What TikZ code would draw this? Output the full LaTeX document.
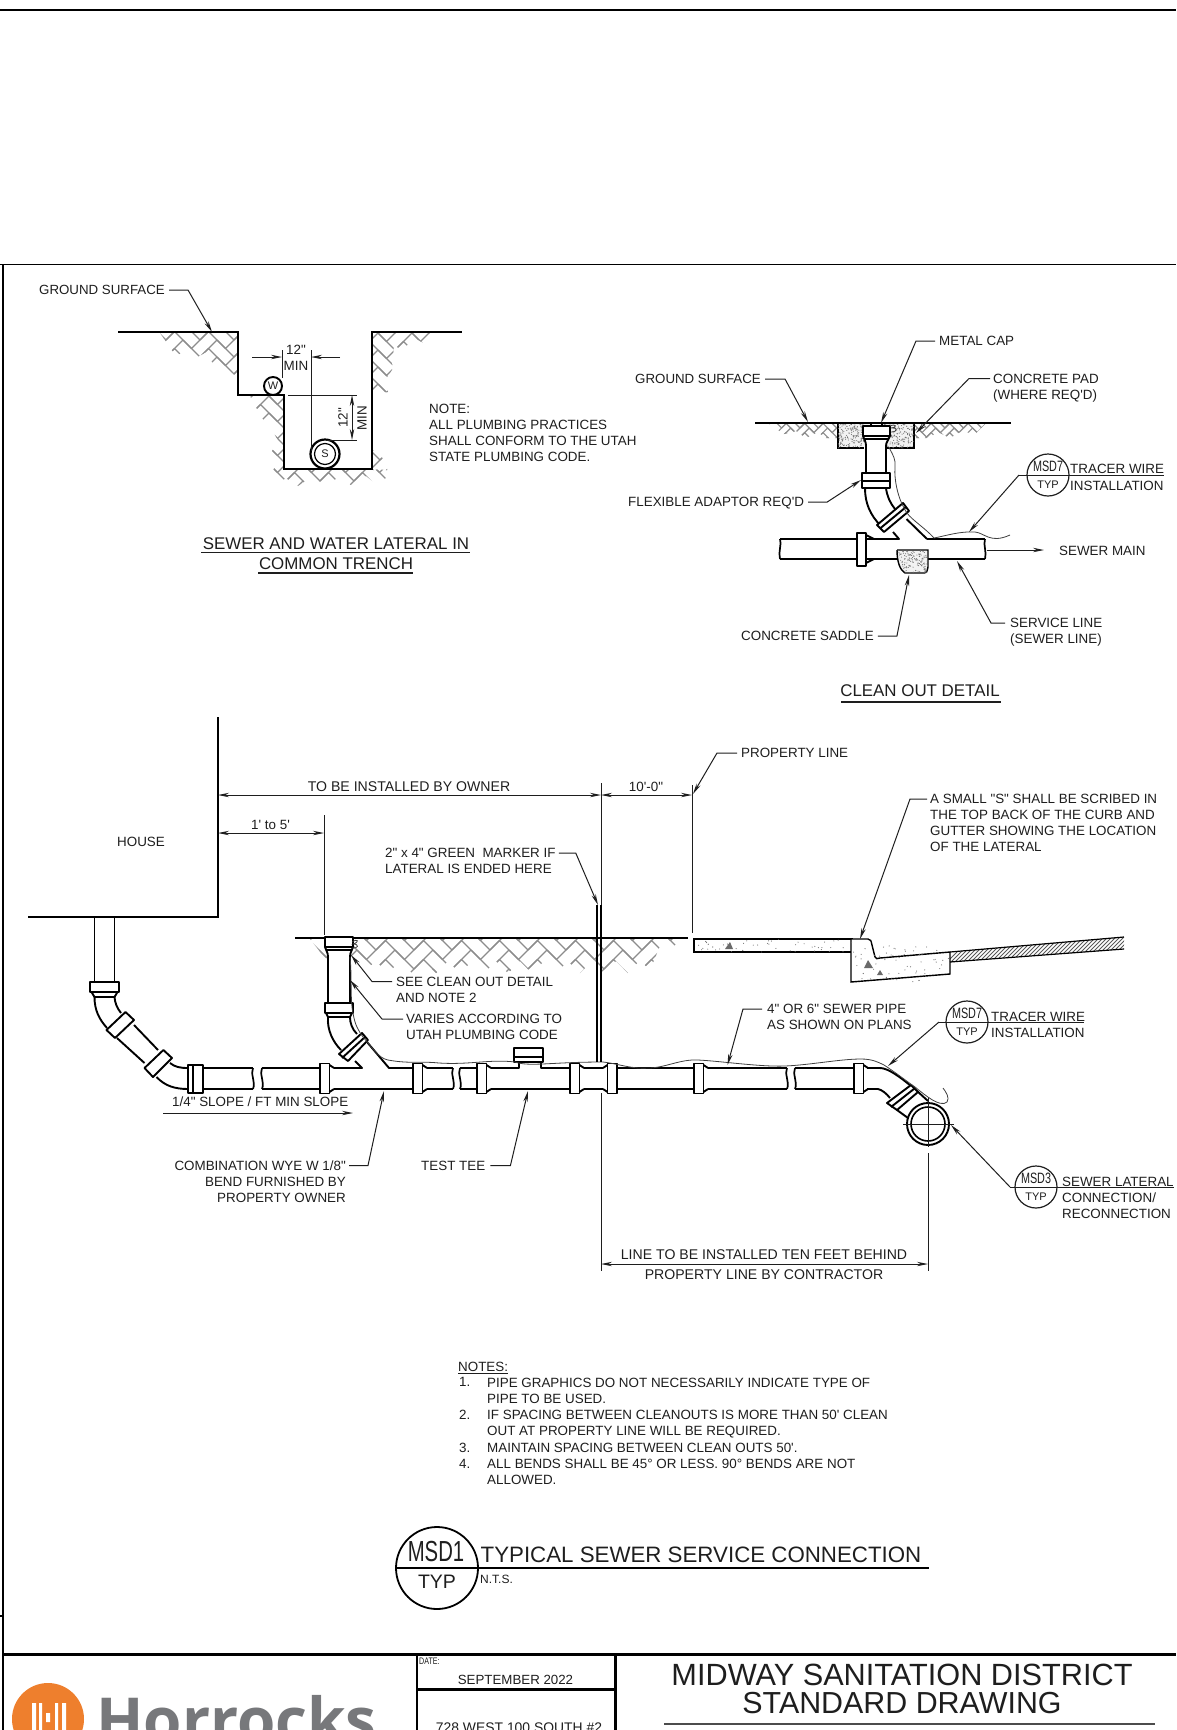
\documentclass[tikz,border=0pt]{standalone}
\usepackage{fontspec}
\usetikzlibrary{arrows.meta}
\newfontfamily\lib{Liberation Sans}
\newfontfamily\libb{Open Sans}
\definecolor{ink}{HTML}{1E1E1E}
\definecolor{hatchg}{HTML}{8C8C8C}
\definecolor{stipg}{HTML}{6A6A6A}
\definecolor{logoo}{HTML}{EE7F2D}
\definecolor{logog}{HTML}{77787B}
\newcommand\narrowtxt[2]{\scalebox{#1}[1]{#2}}
\tikzset{
  lbl/.style={inner sep=0pt,anchor=north west,align=left,text=ink,yshift=-1pt,font=\lib\fontsize{13.4}{16}\selectfont},
  lblr/.style={lbl,anchor=north east,align=right},
  lblc/.style={lbl,anchor=north,align=center},
  lbld/.style={lblc,yshift=1pt,font=\lib\fontsize{14.1}{16}\selectfont},
  ttl/.style={inner sep=0pt,anchor=center,align=center,text=ink,yshift=-1pt,font=\lib\fontsize{16.9}{20}\selectfont},
  lead/.style={draw=ink,line width=1pt,-{Stealth[length=11pt,width=4.4pt]}},
  dimarr/.style={draw=ink,line width=1pt,{Stealth[length=11pt,width=4.4pt]}-{Stealth[length=11pt,width=4.4pt]}},
  thinl/.style={draw=ink,line width=1pt},
  pipe/.style={draw=black,line width=1.9pt,line join=round},
  pipef/.style={pipe,fill=white},
  wire/.style={draw=black!75,line width=0.8pt},
  hatchl/.style={draw=hatchg,line width=1.2pt},
  bub/.style={circle,draw=ink,line width=1.2pt,minimum size=42pt,inner sep=0pt},
  frame/.style={draw=black,line width=2.4pt},
  conc/.style={draw=black,line width=1.4pt,fill=white}
}
% clip path, centre x, centre y, unit, columns, rows
\newcommand\earth[6]{%
  \begin{scope}
    \clip #1;
    \begin{scope}[shift={(#2,#3)},x={(#4pt,#4pt)},y={(-#4pt,#4pt)},hatchl]
      \foreach \jj in {-#5,...,#5}{\foreach \kk in {-#6,...,#6}{%
        \draw[shift={(\kk+2*\jj,\kk-2*\jj)}] (0,0)--(2,0) (0,1)--(2,1)
          (2,-1)--(2,1) (3,-1)--(3,1);
      }}
    \end{scope}
  \end{scope}}
% clip path, x, y, w, h, n
\newcommand\stip[6]{%
  \begin{scope}
    \clip #1;
    \foreach \q in {1,...,#6}{%
      \pgfmathsetmacro\px{#2+#4*rnd}\pgfmathsetmacro\py{#3+#5*rnd}%
      \fill[stipg] (\px,\py) circle (0.55);}
  \end{scope}}
% bell with the socket on the left, taper to the right
\newcommand\bellR[1]{%
  \draw[pipef] (#1,1063.5) rectangle ++(9.5,30);
  \draw[pipe] (#1+9.5,1065)--(#1+14,1068) (#1+9.5,1092)--(#1+14,1089);}
% bell with taper on the left, socket on the right
\newcommand\bellL[1]{%
  \draw[pipe] (#1,1068)--(#1+4.5,1065) (#1,1089)--(#1+4.5,1092);
  \draw[pipef] (#1+4.5,1063.5) rectangle ++(9.5,30);}
\newcommand\brk[1]{\draw[draw=black,line width=1.7pt] (#1,1068) .. controls (#1-3,1074) and (#1+3,1082) .. (#1,1089);}
\begin{document}
\begin{tikzpicture}[x=1pt,y=-1pt]
\useasboundingbox (0,0) rectangle (1176,1730);
\fill[white] (0,0) rectangle (1176,1730);
\clip (0,0) rectangle (1176,1730);
\pgfmathsetseed{11}

% ---------- sheet frame
\draw[frame] (0,10)--(1176,10);
\draw[draw=black,line width=1.1pt] (0,264.5)--(1176,264.5);
\draw[frame] (3,264.5)--(3,1730);
\draw[frame] (0,1616)--(3,1616);
\draw[frame] (3,1654.5)--(1176,1654.5);
\draw[frame] (417,1654.5)--(417,1730) (615.5,1654.5)--(615.5,1730) (417,1689.5)--(615.5,1689.5);
\draw[draw=black!70,line width=1.6pt] (664,1724)--(1155,1724);

% ---------- trench
\earth{(160,333)--(238,333)--(238,378)--(224,366)--(218,372)--(206,352)--(196,358)--(186,350)--(176,356)--cycle}{200}{340}{8.5}{4}{5}
\earth{(250,396)--(283,396)--(283,469.5)--(386,469.5)--(386,478)--(376,484)--(366,476)--(352,486)--(340,476)--(326,486)--(312,476)--(298,486)--(286,478)--(276,485)--(270,476)--(276,465)--(270,455)--(278,440)--(272,430)--(262,418)--cycle}{320}{430}{8.5}{5}{7}
\earth{(373,333)--(436,333)--(425,344)--(415,338)--(402,350)--(394,345)--(392,370)--(385,380)--(388,392)--(373,392)--cycle}{395}{350}{8.5}{4}{5}
\earth{(373,450)--(387,462)--(387,470)--(373,470)--cycle}{380}{460}{8.5}{2}{3}
\draw[draw=black,line width=1.6pt] (118,332)--(238,332)--(238,395)--(284,395)--(284,469)--(372,469)--(372,332)--(462,332);
\draw[draw=black,line width=1.9pt,fill=white] (273,386) circle (9);
\draw[draw=black,line width=2.2pt,fill=white] (325,454) circle (14.5);
\draw[draw=black,line width=1.2pt] (325,454) circle (10.5);
\node[inner sep=0pt,text=ink,font=\lib\fontsize{11}{11}\selectfont] (wmark) at (273,386) {W};
\node[inner sep=0pt,text=ink,font=\lib\fontsize{11}{11}\selectfont] (smark) at (325,454) {S};
\coordinate (ex1a) at (282,350); \coordinate (ex1b) at (282,378);
\coordinate (ex2a) at (311,350); \coordinate (ex2b) at (311,451);
\coordinate (ar1a) at (252,357); \coordinate (ar2a) at (340,357);
\coordinate (ar1b) at (282,357); \coordinate (ar2b) at (311,357);
\draw[thinl] (ex1a)--(ex1b) (ex2a)--(ex2b);
\draw[lead] (ar1a)--(ar1b);
\draw[lead] (ar2a)--(ar2b);
\coordinate (ey1a) at (288,395); \coordinate (ey1b) at (357,395);
\coordinate (ey2a) at (327,440); \coordinate (ey2b) at (357,440);
\coordinate (dv1) at (352,395); \coordinate (dv2) at (352,440);
\draw[thinl] (ey1a)--(ey1b) (ey2a)--(ey2b);
\draw[dimarr] (dv1)--(dv2);
\node[lblc] (tw12) at (296,344) {12"};
\node[lblc] (twmin) at (296,360) {MIN};
\node[lbl,anchor=center,rotate=90,yshift=1pt] (tv12) at (344,417) {12"};
\node[lbl,anchor=center,rotate=90,yshift=1pt] (tvmin) at (363,417) {MIN};
\node[lbl,font=\lib\fontsize{13.3}{16}\selectfont] (gs1) at (39,284) {GROUND SURFACE};
\coordinate (gs1t) at (212,332);
\draw[lead] (gs1.north east) ++(4,5) -- ++(19,0) -- (gs1t);
\node[lbl] (note1) at (429,403) {NOTE:\\ALL PLUMBING PRACTICES\\SHALL CONFORM TO THE UTAH\\STATE PLUMBING CODE.};
\node[ttl] (t1a) at (336,543) {SEWER AND WATER LATERAL IN};
\node[ttl] (t1b) at (336,563) {COMMON TRENCH};
\draw[draw=ink,line width=1.1pt] (201,552.5)--(470,552.5) (258,573)--(413,573);

% ---------- clean out detail
\earth{(769,424)--(838,424)--(838,438)--(826,438)--(818,432)--(806,438)--(796,431)--(784,434)--cycle}{800}{428}{4.6}{6}{4}
\earth{(914,424)--(985,424)--(975,434)--(962,431)--(950,438)--(938,432)--(928,438)--(914,438)--cycle}{945}{428}{4.6}{6}{4}
\draw[draw=black,line width=1.4pt,fill=black!5] (838,423) rectangle (914,448);
\stip{(838,423) rectangle (914,448)}{838}{423}{76}{25}{480}
\draw[draw=black,line width=1.2pt] (755,423)--(1011,423);
% riser
\fill[white] (864,426) rectangle (887,481);
\draw[pipef] (871,423) rectangle (882,426);
\draw[pipef] (863,426) rectangle (890,436);
\draw[pipe] (863,436) .. controls (864,440) and (866,441) .. (866,446) -- (866,473);
\draw[pipe] (890,436) .. controls (889,440) and (886,441) .. (886,446) -- (886,473);
\draw[pipe] (864,439)--(889,439);
\draw[pipef] (862,473) rectangle (890,488);
\draw[pipe] (862,481)--(890,481);
% main
\draw[pipe] (780,539)--(858,539) (780,559)--(858,559);
\draw[pipe] (866,539)--(899,539)--(893,532);
\draw[pipe] (866,559)--(897,559) (928,559)--(985,559);
\draw[pipe] (927,539)--(985,539);
\draw[pipe] (906.5,519)--(927,539);
\draw[pipef] (857,533) rectangle (866,566);
\draw[pipe] (866,535)--(874,539) (866,563)--(874,559);
\draw[draw=black,line width=1.7pt] (780,539) .. controls (782,544) and (778,552) .. (780,559);
\draw[draw=black,line width=1.7pt] (985,539) .. controls (983,545) and (987,552) .. (985,559);
% bend
\draw[pipe] (865,488) .. controls (865,503) and (870,515) .. (881,526);
\draw[pipe] (886,488) .. controls (887,496) and (890,503) .. (895,509);
\draw[pipef] (877,525)--(903,503)--(909,511)--(884,532)--cycle;
\draw[pipe] (880,528.5)--(906,507);
% saddle
\draw[conc,fill=black!5] (897,550)--(928,550)--(928,564) .. controls (928,570) and (927,573) .. (924,573) -- (905,573) .. controls (900,570) and (897,562) .. (897,550);
\stip{(897,550)--(928,550)--(928,573)--(905,573)--cycle}{897}{550}{31}{23}{150}
% wire
\draw[wire] (889.5,448.3) .. controls (893,455) and (896,460) .. (895,467) .. controls (894,480) and (898,500) .. (907,513) .. controls (912,520) and (925,528) .. (934,538) .. controls (945,536) and (960,531) .. (975,532) .. controls (985,533) and (990,544) .. (1010,535);
\draw[wire] (890,426) .. controls (897,423) and (897,428) .. (891,428) .. controls (898,427) and (898,432) .. (891,432);
% leaders
\node[lbl,font=\lib\fontsize{13.3}{16}\selectfont] (gs2) at (635,373) {GROUND SURFACE};
\coordinate (gs2t) at (808,422);
\draw[lead] (gs2.north east) ++(4,5) -- ++(20,0) -- (gs2t);
\node[lbl] (mc) at (939,335) {METAL CAP};
\coordinate (mct) at (881,423);
\draw[lead] (mc.north west) ++(-4,5) -- ++(-19,0) -- (mct);
\node[lbl] (cp) at (993,372.5) {CONCRETE PAD\\(WHERE REQ'D)};
\coordinate (cpt) at (916,433);
\draw[lead] (cp.north west) ++(-3,5) -- ++(-21,0) -- (cpt);
\node[lbl] (fa) at (628,496) {FLEXIBLE ADAPTOR REQ'D};
\coordinate (fat) at (861,480);
\draw[lead] (fa.north east) ++(4,5) -- ++(19,0) -- (fat);
\node[bub] (b7a) at (1048,475) {};
\node[inner sep=0pt,text=ink,font=\lib\fontsize{15}{15}\selectfont] (b7at) at (1048,466.5) {\narrowtxt{0.72}{MSD7}};
\node[inner sep=0pt,text=ink,font=\lib\fontsize{11}{11}\selectfont] (b7ab) at (1048,485) {TYP};
\node[lbl] (tw1) at (1070,463) {TRACER WIRE};
\node[lbl] (in1) at (1070,480) {INSTALLATION};
\coordinate (b7al) at (1019,475); \coordinate (b7ar) at (1164,475); \coordinate (b7at2) at (969,532);
\draw[thinl] (b7al)--(b7ar);
\draw[lead] (b7al)--(b7at2);
\node[lbl] (sm) at (1059,544.5) {SEWER MAIN};
\coordinate (sma) at (987,550); \coordinate (smb) at (1044,550);
\draw[lead] (sma)--(smb);
\node[lbl] (csd) at (741,630) {CONCRETE SADDLE};
\coordinate (csdt) at (909,575);
\draw[lead] (csd.north east) ++(4,5) -- ++(19,0) -- (csdt);
\node[lbl] (sl) at (1010,617) {SERVICE LINE\\(SEWER LINE)};
\coordinate (slt) at (957,561);
\draw[lead] (sl.north west) ++(-5,5) -- ++(-14,0) -- (slt);
\node[ttl] (t2) at (920,690) {CLEAN OUT DETAIL};
\draw[draw=ink,line width=1.1pt] (841,702)--(1001,702);

% ---------- main profile: ground
\earth{(310,939)--(681,939)--(668,952)--(660,946)--(650,970)--(640,960)--(628,973)--(616,961)--(604,973)--(592,961)--(580,973)--(568,961)--(556,973)--(544,961)--(532,973)--(520,961)--(508,973)--(496,961)--(484,973)--(472,961)--(460,973)--(448,961)--(436,973)--(424,961)--(412,973)--(400,961)--(388,973)--(376,961)--(364,971)--(352,958)--(325,958)--cycle}{490}{950}{9.5}{11}{3}
\draw[draw=black,line width=1.5pt] (295,938)--(688,938);
% house
\draw[draw=black,line width=1.4pt] (218,717)--(218,917)--(28,917);
\node[lbl,anchor=center] (house) at (141,841) {HOUSE};
% sidewalk, curb, road
\begin{scope}
\clip (950,952)--(1124,937)--(1124,949)--(950,962)--cycle;
\foreach \hx in {944,948,...,1136}{\draw[draw=black!65,line width=0.8pt] (\hx,965)--(\hx+30,935);}
\end{scope}
\draw[conc,line width=1.4pt] (694,939)--(852,939)--(852,952)--(694,952)--cycle;
\draw[conc,line width=1.4pt] (851,939)--(868,939) .. controls (871,939) and (871,941) .. (872,945) -- (875,957) .. controls (876,959) and (877,959) .. (880,958) -- (950,952)--(950,974)--(851,982)--cycle;
\draw[draw=black,line width=1.2pt] (950,952)--(1124,937) (950,962)--(1124,949);
\stip{(694,939) rectangle (852,952)}{694}{939}{158}{13}{45}
\stip{(851,945) rectangle (950,982)}{851}{945}{99}{37}{60}
\fill[stipg] (725,949)--(730,942)--(733,949)--cycle (864,968)--(868,960)--(873,968)--cycle (877,975)--(880,970)--(883,975)--cycle;
% left stack
\draw[pipe] (94.5,917)--(94.5,982) (114.5,917)--(114.5,982);
\draw[pipef] (90,982) rectangle (119,992);
\draw[pipe] (91.5,992)--(94.5,997)--(114.5,997)--(117.5,992);
\draw[pipe] (94.5,997) .. controls (94.5,1010) and (99,1019) .. (107,1028);
\draw[pipe] (114.5,997) .. controls (115,1003) and (117,1008) .. (121,1013);
\draw[pipef] (125.5,1012)--(134,1020)--(115,1038)--(106.5,1030)--cycle;
\draw[pipe] (134,1025)--(158,1050) (117,1038)--(144.5,1063);
\draw[pipef] (163.4,1050)--(172,1058)--(153,1077)--(144.5,1068)--cycle;
\draw[pipe] (170,1063) .. controls (175,1067) and (180,1068) .. (188,1068);
\draw[pipe] (156.5,1077) .. controls (165,1086) and (175,1089) .. (188,1089);
\draw[pipef] (188,1065) rectangle (203,1093);
\draw[pipe] (193,1065)--(193,1093);
\draw[pipe] (203,1068)--(253,1068) (203,1089)--(253,1089) (262,1068)--(320,1068) (262,1089)--(320,1089);
\brk{253}\brk{262}
\bellR{320}
% cleanout riser
\fill[white] (329,939) rectangle (349,1005);
\draw[pipef] (325,937) rectangle (353,947);
\draw[pipe] (325,947) .. controls (326,951) and (328,952) .. (328,957) -- (328,1003);
\draw[pipe] (353,947) .. controls (352,951) and (350,952) .. (350,957) -- (350,1003);
\draw[pipe] (326,950)--(352,950);
\draw[pipef] (325,1003) rectangle (353,1013);
\draw[pipe] (326,1013)--(328,1017)--(350,1017)--(352,1013);
\draw[pipe] (328,1017) .. controls (327,1030) and (333,1042) .. (341,1050);
\draw[pipe] (350,1017) .. controls (350,1023) and (352,1029) .. (357,1034);
\draw[pipef] (339,1054)--(362,1033)--(368,1040)--(348,1061)--cycle;
\draw[pipe] (342,1058)--(365,1037);
\draw[pipe] (334,1068)--(362,1068)--(355,1061);
\draw[pipe] (367,1042)--(389,1068)--(413,1068);
\draw[pipe] (334,1089)--(413,1089);
\bellR{413}
\draw[pipe] (427,1068)--(453,1068) (427,1089)--(453,1089) (460,1068)--(477,1068) (460,1089)--(477,1089);
\brk{453}\brk{460}
\bellR{477}
% test tee
\draw[pipe] (491,1068)--(519,1068)--(519,1062) (541,1062)--(541,1068)--(570,1068) (491,1089)--(570,1089);
\draw[pipef] (514,1048) rectangle (543,1062);
\draw[pipe] (514,1057)--(543,1057);
\bellR{570}
\draw[pipe] (584,1068)--(603,1068) (584,1089)--(603,1089);
\bellL{603}
\draw[pipe] (617,1068)--(694,1068) (617,1089)--(694,1089);
\bellR{694}
\draw[pipe] (708,1068)--(787,1068) (708,1089)--(787,1089) (795,1068)--(854,1068) (795,1089)--(854,1089);
\brk{787}\brk{795}
\bellR{854}
% end bend and main
\draw[pipe] (867,1068)--(880,1068) .. controls (888,1068) and (900,1077) .. (911,1086);
\draw[pipe] (867,1089)--(878,1089) .. controls (882,1090) and (886,1093) .. (890,1098);
\draw[pipe] (917,1091)--(928,1101) (897,1110)--(908,1118);
\draw[draw=black,line width=1.9pt,fill=white] (928,1124) circle (21);
\draw[draw=black,line width=1.6pt] (928,1124) circle (17);
\draw[pipef] (887,1103)--(911,1085)--(918,1092)--(897,1110)--cycle;
\draw[pipe] (891,1107)--(914.5,1088.5);
\draw[thinl] (903,1124)--(954,1124) (928,1097)--(928,1147);
% wire along pipe
\draw[wire] (350,957) .. controls (352,975) and (350,1000) .. (353,1013) .. controls (355,1025) and (358,1030) .. (363,1037) .. controls (372,1047) and (378,1058) .. (388,1060) .. controls (410,1064) and (420,1061) .. (439,1063) .. controls (470,1065) and (490,1059) .. (515,1062) .. controls (530,1067) and (550,1062) .. (603,1062) .. controls (620,1064) and (630,1069) .. (648,1068) .. controls (665,1068) and (680,1059) .. (698,1060) .. controls (720,1061) and (760,1067) .. (785,1066) .. controls (810,1065) and (840,1059) .. (861,1059) .. controls (872,1059) and (878,1062) .. (884,1065) .. controls (895,1072) and (905,1080) .. (915,1087) .. controls (925,1095) and (940,1108) .. (947,1102) .. controls (950,1098) and (946,1092) .. (943,1088);
\draw[wire] (352,942) .. controls (358,938) and (360,942) .. (353,944) .. controls (360,944) and (358,949) .. (352,948);
% marker
\draw[draw=black,line width=1.4pt] (597,905)--(597,1062) (601,905)--(601,1062);
% dimensions and extension lines
\coordinate (dh1) at (218,795); \coordinate (dh2) at (601,795); \coordinate (dh3) at (692,795);
\draw[dimarr] (dh1)--(dh2);
\draw[dimarr] (dh2)--(dh3);
\coordinate (dp1) at (601,783); \coordinate (dp2) at (601,905);
\coordinate (dp3) at (601,1093); \coordinate (dp4) at (601,1271);
\draw[thinl] (dp1)--(dp2) (dp3)--(dp4);
\coordinate (dq1) at (692,785); \coordinate (dq2) at (692,933);
\draw[thinl] (dq1)--(dq2);
\coordinate (dr1) at (218,833); \coordinate (dr2) at (324,833);
\draw[dimarr] (dr1)--(dr2);
\coordinate (ds1) at (324.5,815); \coordinate (ds2) at (324.5,935);
\draw[thinl] (ds1)--(ds2);
\coordinate (de1) at (928,1153); \coordinate (de2) at (928,1271);
\draw[thinl] (de1)--(de2);
\coordinate (dl1) at (601,1264); \coordinate (dl2) at (928,1264);
\draw[dimarr] (dl1)--(dl2);
\coordinate (sa) at (163,1113); \coordinate (sb) at (353,1113);
\draw[lead] (sa)--(sb);
% labels of the profile
\node[lbld] (ltbo) at (409,781) {TO BE INSTALLED BY OWNER};
\node[lblc] (lten) at (646,781) {10'-0"};
\node[lblc] (lone) at (270.5,819) {1' to 5'};
\node[lbl] (lpl) at (741,747) {PROPERTY LINE};
\coordinate (lplt) at (693,794);
\draw[lead] (lpl.north west) ++(-4,5) -- ++(-20,0) -- (lplt);
\node[lbl] (lmk) at (385,847) {2" x 4" GREEN\ \ MARKER IF\\LATERAL IS ENDED HERE};
\coordinate (lmkt) at (598,905);
\draw[lead] (lmk.north east) ++(3,5) -- ++(17,0) -- (lmkt);
\node[lbl] (lsm) at (930,793) {A SMALL "S" SHALL BE SCRIBED IN\\THE TOP BACK OF THE CURB AND\\GUTTER SHOWING THE LOCATION\\OF THE LATERAL};
\coordinate (lsmt) at (860,939);
\draw[lead] (lsm.north west) ++(-3,5) -- ++(-17,0) -- (lsmt);
\node[lbl] (lsc) at (396,975.5) {SEE CLEAN OUT DETAIL\\AND NOTE 2};
\coordinate (lsct) at (351,955);
\draw[lead] (lsc.north west) ++(-4,5) -- ++(-20,0) -- (lsct);
\node[lbl] (lva) at (406,1013) {VARIES ACCORDING TO\\UTAH PLUMBING CODE};
\coordinate (lvat) at (350,980);
\draw[lead] (lva.north west) ++(-3,5) -- ++(-21,0) -- (lvat);
\node[lbl] (lpp) at (767,1003) {4" OR 6" SEWER PIPE\\AS SHOWN ON PLANS};
\coordinate (lppt) at (727.5,1065);
\draw[lead] (lpp.north west) ++(-5,5) -- ++(-19,0) -- (lppt);
\node[lbl] (lsl) at (172,1096) {1/4" SLOPE / FT MIN SLOPE};
\node[lblr] (lcw) at (346,1159.5) {COMBINATION WYE W 1/8"\\BEND FURNISHED BY\\PROPERTY OWNER};
\coordinate (lcwt) at (384,1091);
\draw[lead] (lcw.north east) ++(3,5) -- ++(19,0) -- (lcwt);
\node[lbl] (ltt) at (421,1159.5) {TEST TEE};
\coordinate (lttt) at (528,1091);
\draw[lead] (ltt.north east) ++(5,5) -- ++(20,0) -- (lttt);
\node[bub] (b7b) at (967,1022) {};
\node[inner sep=0pt,text=ink,font=\lib\fontsize{15}{15}\selectfont] (b7bt) at (967,1013.5) {\narrowtxt{0.72}{MSD7}};
\node[inner sep=0pt,text=ink,font=\lib\fontsize{11}{11}\selectfont] (b7bb) at (967,1032) {TYP};
\node[lbl] (tw2) at (991,1011) {TRACER WIRE};
\node[lbl] (in2) at (991,1026.5) {INSTALLATION};
\coordinate (b7bl) at (939,1022); \coordinate (b7br) at (1084,1022); \coordinate (b7bt2) at (888,1066);
\draw[thinl] (b7bl)--(b7br);
\draw[lead] (b7bl)--(b7bt2);
\node[bub] (b3) at (1036,1187) {};
\node[inner sep=0pt,text=ink,font=\lib\fontsize{15}{15}\selectfont] (b3t) at (1036,1178.5) {\narrowtxt{0.72}{MSD3}};
\node[inner sep=0pt,text=ink,font=\lib\fontsize{11}{11}\selectfont] (b3b) at (1036,1197) {TYP};
\node[lbl] (sla) at (1062,1175.5) {SEWER LATERAL};
\node[lbl] (slb) at (1062,1191.5) {CONNECTION/\\RECONNECTION};
\coordinate (b3l) at (1010,1187); \coordinate (b3r) at (1174,1187); \coordinate (b3t2) at (951,1125);
\draw[thinl] (b3l)--(b3r);
\draw[lead] (b3l)--(b3t2);
\node[lbld] (lln) at (764,1249) {LINE TO BE INSTALLED TEN FEET BEHIND};
\node[lbld] (lcn) at (764,1269) {PROPERTY LINE BY CONTRACTOR};

% ---------- notes
\node[lbl] (nh) at (458,1361) {NOTES:};
\draw[draw=ink,line width=0.9pt] (458,1373)--(508,1373);
\node[lbl,font=\lib\fontsize{13.4}{16.3}\selectfont] (nn) at (459,1376.5) {1.\\\\2.\\\\3.\\4.};
\node[lbl,font=\lib\fontsize{13.4}{16.3}\selectfont] (nt) at (487,1376.5) {PIPE GRAPHICS DO NOT NECESSARILY INDICATE TYPE OF\\PIPE TO BE USED.\\IF SPACING BETWEEN CLEANOUTS IS MORE THAN 50' CLEAN\\OUT AT PROPERTY LINE WILL BE REQUIRED.\\MAINTAIN SPACING BETWEEN CLEAN OUTS 50'.\\ALL BENDS SHALL BE 45° OR LESS. 90° BENDS ARE NOT\\ALLOWED.};

% ---------- title
\node[circle,draw=black,line width=1.8pt,minimum size=82pt,inner sep=0pt] (msd1) at (437,1568) {};
\node[inner sep=0pt,text=ink,font=\lib\fontsize{29}{29}\selectfont] (msd1t) at (436,1551) {\narrowtxt{0.7}{MSD1}};
\node[inner sep=0pt,text=ink,font=\lib\fontsize{19.5}{20}\selectfont] (msd1b) at (437,1582) {TYP};
\coordinate (msl) at (396,1568); \coordinate (msr) at (929,1568);
\draw[draw=black,line width=2pt] (msl)--(msr);
\node[inner sep=0pt,anchor=center,text=ink,font=\lib\fontsize{22.3}{24}\selectfont] (mst) at (701,1555) {TYPICAL SEWER SERVICE CONNECTION};
\node[lbl,font=\lib\fontsize{12}{12}\selectfont] (nts) at (480,1573.5) {N.T.S.};

% ---------- title block
\fill[logoo] (48,1719) circle (36);
\fill[white] (32,1703) rectangle (36,1730) (39,1703) rectangle (42,1730) (46,1713) rectangle (50,1722) (55,1703) rectangle (58,1730) (62,1703) rectangle (66,1730);
\node[inner sep=0pt,anchor=base west,text=logog,font=\libb\bfseries\fontsize{62}{62}\selectfont] (hrk) at (96,1742) {Horrocks};
\node[inner sep=0pt,anchor=west,text=ink,font=\lib\fontsize{9.5}{9.5}\selectfont] (dt) at (419,1661) {\narrowtxt{0.75}{DATE:}};
\node[inner sep=0pt,text=ink,font=\lib\fontsize{13.3}{14}\selectfont] (sp) at (515.5,1680) {SEPTEMBER 2022};
\node[inner sep=0pt,text=ink,font=\lib\fontsize{13.9}{14}\selectfont] (ad) at (519,1727.5) {728 WEST 100 SOUTH \#2};
\node[inner sep=0pt,text=ink,font=\lib\fontsize{30.7}{30}\selectfont] (sd1) at (902,1674.5) {MIDWAY SANITATION DISTRICT};
\node[inner sep=0pt,text=ink,font=\lib\fontsize{30.4}{30}\selectfont] (sd2) at (902,1703) {STANDARD DRAWING};
\end{tikzpicture}
\end{document}
